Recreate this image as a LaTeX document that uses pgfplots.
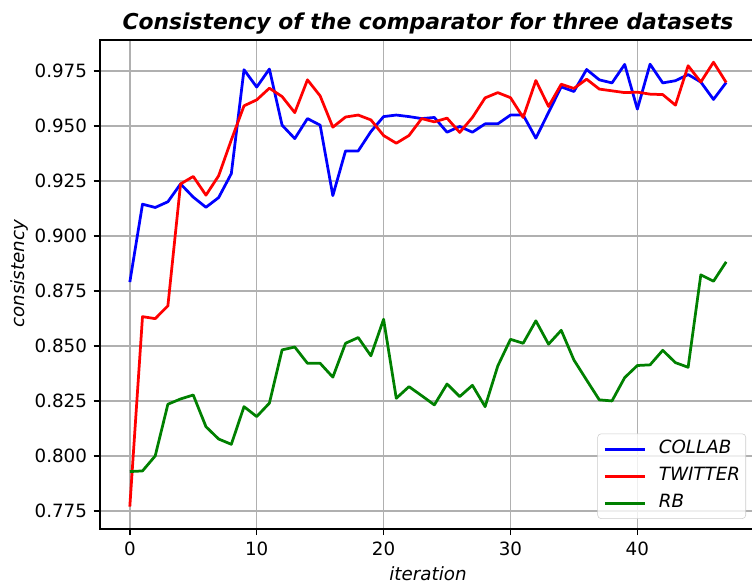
\documentclass[border=0pt]{standalone}
\usepackage{pgfplots}
\pgfplotsset{compat=1.18}
\usepackage{fontspec}
\setmainfont{DejaVu Sans}

\pgfplotstableread{
x collab twitter rb
0 0.8790 0.7770 0.7929
1 0.9144 0.8633 0.7932
2 0.9129 0.8624 0.8000
3 0.9155 0.8682 0.8235
4 0.9236 0.9236 0.8259
5 0.9176 0.9270 0.8277
6 0.9130 0.9185 0.8133
7 0.9174 0.9273 0.8077
8 0.9283 0.9436 0.8053
9 0.9755 0.9591 0.8224
10 0.9676 0.9618 0.8179
11 0.9758 0.9671 0.8240
12 0.9503 0.9633 0.8482
13 0.9442 0.9560 0.8495
14 0.9533 0.9709 0.8421
15 0.9503 0.9636 0.8421
16 0.9183 0.9494 0.8358
17 0.9386 0.9540 0.8512
18 0.9386 0.9549 0.8538
19 0.9474 0.9527 0.8455
20 0.9542 0.9456 0.8621
21 0.9549 0.9421 0.8262
22 0.9542 0.9456 0.8315
23 0.9533 0.9533 0.8274
24 0.9538 0.9518 0.8232
25 0.9471 0.9535 0.8327
26 0.9497 0.9470 0.8270
27 0.9471 0.9538 0.8321
28 0.9509 0.9627 0.8224
29 0.9509 0.9651 0.8409
30 0.9549 0.9628 0.8530
31 0.9549 0.9538 0.8512
32 0.9444 0.9706 0.8614
33 0.9561 0.9588 0.8508
34 0.9677 0.9689 0.8571
35 0.9656 0.9670 0.8436
36 0.9756 0.9712 0.8345
37 0.9709 0.9667 0.8255
38 0.9695 0.9659 0.8250
39 0.9779 0.9651 0.8356
40 0.9576 0.9653 0.8411
41 0.9780 0.9644 0.8414
42 0.9695 0.9642 0.8480
43 0.9705 0.9594 0.8424
44 0.9733 0.9773 0.8403
45 0.9699 0.9699 0.8823
46 0.9620 0.9789 0.8794
47 0.9697 0.9697 0.8882
}\datatable

\newcommand{\lab}{\fontsize{13.7}{16}\selectfont}

\begin{document}
\begin{tikzpicture}
\begin{axis}[
  at={(0,0)}, anchor=south west,
  scale only axis, width=492pt, height=366.6pt,
  xmin=-2.35, xmax=49.35, ymin=0.7669, ymax=0.989,
  xtick={0,10,20,30,40},
  ytick={0.775,0.800,0.825,0.850,0.875,0.900,0.925,0.950,0.975},
  yticklabel style={/pgf/number format/.cd, fixed, fixed zerofill, precision=3},
  /pgf/number format/assume math mode=true,
  tick label style={font=\lab, inner sep=0pt},
  tick align=outside, tick pos=left, major tick length=4.8pt,
  xticklabel shift=4.8pt, yticklabel shift=4.8pt,
  grid=major, grid style={color=black!31, line width=1.1pt},
  axis line style={line width=1.1pt, black},
  every tick/.style={black, line width=1.1pt},
  legend style={at={(axis description cs:1,0)}, anchor=south east,
    xshift=-7.5pt, yshift=7.5pt, draw=black!20, rounded corners=2.5pt,
    fill=white, fill opacity=0.8, text opacity=1,
    inner xsep=4.3pt, inner ysep=5pt, row sep=7.25pt, font=\lab\itshape,
    nodes={inner sep=0pt, text height=10pt, text depth=3pt}},
  legend cell align=left,
  legend image code/.code={\draw[#1] (0pt,0pt) -- (30pt,0pt); \path (39.5pt,0pt);},
  every axis plot/.append style={line width=2.06pt, line join=round},
]
\addplot[blue] table[x=x, y=collab] {\datatable};
\addlegendentry{COLLAB}
\addplot[red] table[x=x, y=twitter] {\datatable};
\addlegendentry{TWITTER}
\addplot[green!50!black] table[x=x, y=rb] {\datatable};
\addlegendentry{RB}
\end{axis}
\node[anchor=base, font=\fontsize{16.4}{19}\selectfont\bfseries\itshape] at (246pt,374.5pt) {Consistency of the comparator for three datasets};
\node[anchor=base, font=\lab\itshape, inner sep=0pt] at (246pt,-38.9pt) {iteration};
\node[rotate=90, anchor=center, font=\lab\itshape, inner sep=0pt] at (-60.75pt,191.3pt) {consistency};
\pgfresetboundingbox
\path (-75pt,-43.65pt) rectangle (489pt,396.6pt);
\end{tikzpicture}
\end{document}
